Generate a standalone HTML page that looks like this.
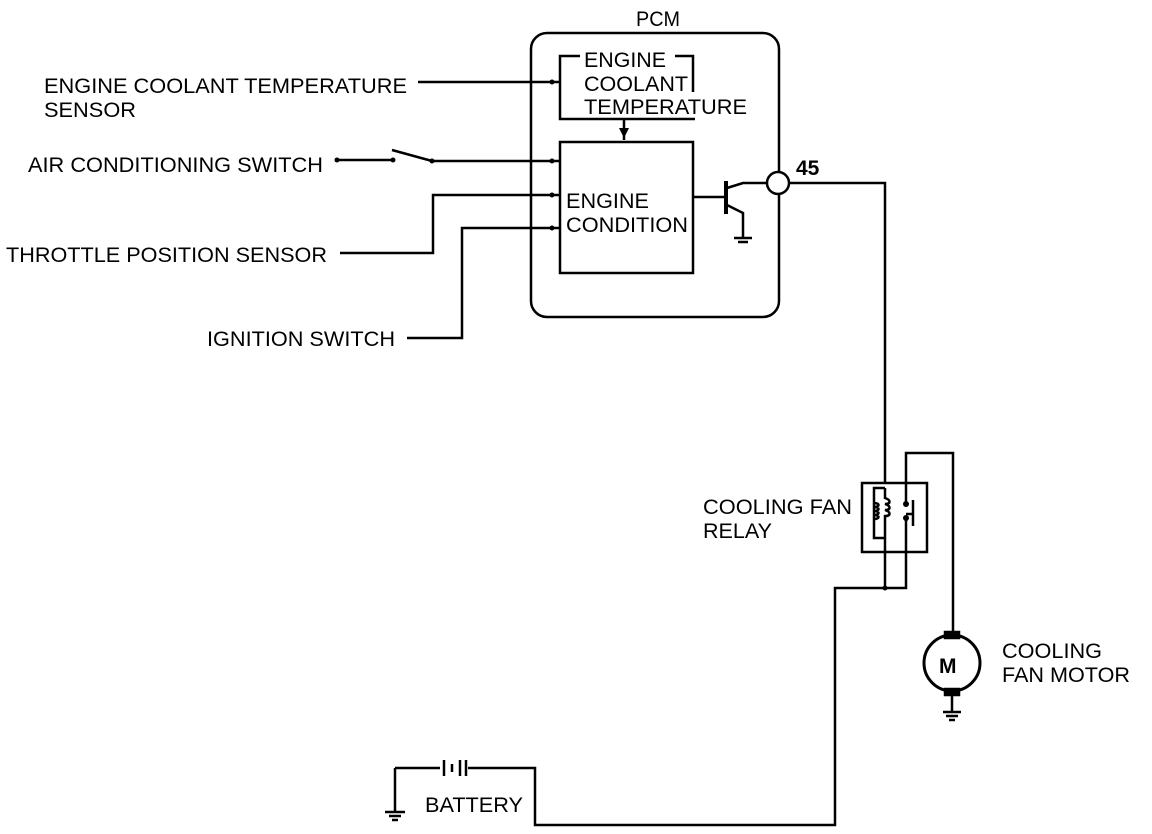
<!DOCTYPE html>
<html><head><style>
html,body{margin:0;padding:0;background:#fff;}
svg{display:block;}
text{font-family:"Liberation Sans",Arial,sans-serif;font-size:21px;fill:#000;}
</style></head><body>
<svg width="1152" height="834" viewBox="0 0 1152 834" xmlns="http://www.w3.org/2000/svg">
<g fill="none" stroke="#000" stroke-width="2.5">
<rect x="531" y="33" width="248" height="284" rx="16"/>
<path d="M580 56 H560 V119 H695"/>
<path d="M675 56 H693 V92"/>
<line x1="624" y1="119" x2="624" y2="140"/>
<rect x="560" y="142" width="133" height="131"/>
<line x1="418" y1="82" x2="560" y2="82"/>
<line x1="337" y1="160" x2="393" y2="160"/>
<line x1="392" y1="150" x2="432" y2="161"/>
<line x1="432" y1="161" x2="560" y2="161"/>
<path d="M340 253 H433 V195 H560"/>
<path d="M407 338 H462 V228 H560"/>
<line x1="693" y1="197" x2="725" y2="197"/>
<line x1="726" y1="181" x2="726" y2="214" stroke-width="4"/>
<path d="M727 188 L743 183 H768"/>
<path d="M727 205 L743 213 V237"/>
<line x1="734" y1="238" x2="752" y2="238"/>
<line x1="738" y1="242" x2="748" y2="242"/>
<circle cx="778" cy="183" r="11" fill="#fff"/>
<path d="M789 183 H885 V483"/>
<rect x="862" y="483" width="65" height="69"/>
<path d="M885 488 H874 V538 H885"/>
<path d="M874 503 c6 0 6 4 0 4 c6 0 6 4 0 4 c6 0 6 4 0 4 c6 0 6 4 0 4"/>
<path d="M885 488 V498 c6 2 6 6 0 6 c6 2 6 6 0 6 c6 2 6 6 0 6 V552"/>
<path d="M906 483 V453 H953 V632"/>
<line x1="906" y1="483" x2="906" y2="504"/>
<line x1="906" y1="518" x2="906" y2="552"/>
<line x1="913" y1="500" x2="913" y2="526"/>
<line x1="906" y1="514" x2="913" y2="514"/>
<path d="M885 552 V588"/>
<path d="M906 552 V588 H835 V825 H535 V768 H468"/>
<line x1="440" y1="768" x2="395" y2="768"/>
<line x1="444" y1="760" x2="444" y2="776"/>
<line x1="452" y1="764" x2="452" y2="772"/>
<line x1="460" y1="760" x2="460" y2="776"/>
<line x1="466" y1="760" x2="466" y2="776"/>
<path d="M395 768 V812"/>
<line x1="385" y1="812" x2="405" y2="812"/>
<line x1="389" y1="816" x2="401" y2="816"/>
<line x1="392" y1="820" x2="398" y2="820"/>
<circle cx="952" cy="663" r="28" stroke-width="3"/>
<rect x="945" y="632" width="14" height="6" fill="#000"/>
<rect x="945" y="689" width="14" height="6" fill="#000"/>
<line x1="952" y1="695" x2="952" y2="712"/>
<line x1="943" y1="712" x2="961" y2="712"/>
<line x1="946" y1="716" x2="958" y2="716"/>
<line x1="949" y1="720" x2="955" y2="720"/>
</g>
<g fill="#000">
<circle cx="337" cy="160" r="2.5"/><circle cx="393" cy="160" r="2.5"/><circle cx="432" cy="161" r="2.5"/>
<circle cx="552" cy="161" r="2.5"/><circle cx="552" cy="195" r="2.5"/><circle cx="552" cy="228" r="2.5"/><circle cx="552" cy="82" r="2.5"/>
<path d="M619 128 L629 128 L624 138 Z"/>
<circle cx="906" cy="504" r="3"/><circle cx="906" cy="518" r="3"/>
<circle cx="885" cy="588" r="2.5"/>
</g>
<g lengthAdjust="spacingAndGlyphs">
<text x="636" y="26" textLength="44" lengthAdjust="spacingAndGlyphs">PCM</text>
<text x="584" y="67" textLength="82" lengthAdjust="spacingAndGlyphs">ENGINE</text>
<text x="584" y="91" textLength="104" lengthAdjust="spacingAndGlyphs">COOLANT</text>
<text x="584" y="114" textLength="163" lengthAdjust="spacingAndGlyphs">TEMPERATURE</text>
<text x="566" y="208" textLength="83" lengthAdjust="spacingAndGlyphs">ENGINE</text>
<text x="566" y="232" textLength="122" lengthAdjust="spacingAndGlyphs">CONDITION</text>
<text x="796" y="175" font-weight="bold" font-size="19">45</text>
<text x="44" y="93" textLength="363" lengthAdjust="spacingAndGlyphs">ENGINE COOLANT TEMPERATURE</text>
<text x="44" y="117" textLength="92" lengthAdjust="spacingAndGlyphs">SENSOR</text>
<text x="28" y="172" textLength="295" lengthAdjust="spacingAndGlyphs">AIR CONDITIONING SWITCH</text>
<text x="6" y="262" textLength="321" lengthAdjust="spacingAndGlyphs">THROTTLE POSITION SENSOR</text>
<text x="207" y="346" textLength="188" lengthAdjust="spacingAndGlyphs">IGNITION SWITCH</text>
<text x="703" y="514" textLength="149" lengthAdjust="spacingAndGlyphs">COOLING FAN</text>
<text x="703" y="538" textLength="69" lengthAdjust="spacingAndGlyphs">RELAY</text>
<text x="1002" y="658" textLength="100" lengthAdjust="spacingAndGlyphs">COOLING</text>
<text x="1002" y="682" textLength="128" lengthAdjust="spacingAndGlyphs">FAN MOTOR</text>
<text x="939" y="673" font-size="24" font-weight="bold">M</text>
<text x="425" y="812" textLength="98" lengthAdjust="spacingAndGlyphs">BATTERY</text>
</g>
</svg>
</body></html>
